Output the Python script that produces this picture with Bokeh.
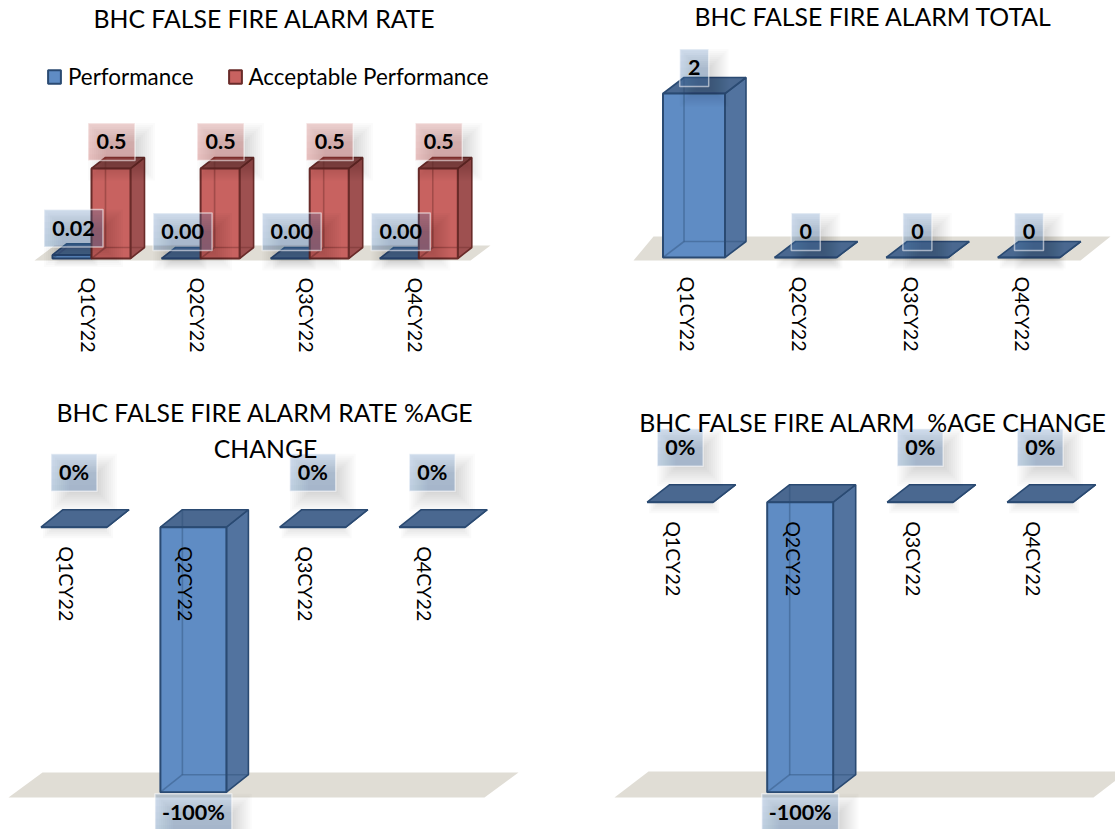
import math
from bokeh.core.properties import value
from bokeh.embed import file_html
from bokeh.layouts import column, row
from bokeh.models import FixedTicker, Label, Legend, LegendItem, LinearAxis, Range1d
from bokeh.plotting import figure
from bokeh.resources import INLINE

CATEGORIES = ["Q1CY22", "Q2CY22", "Q3CY22", "Q4CY22"]
RATE_PERFORMANCE = [0.02, 0.00, 0.00, 0.00]
RATE_ACCEPTABLE = [0.5, 0.5, 0.5, 0.5]
ALARM_TOTAL = [2, 0, 0, 0]
RATE_CHANGE = [0.0, -1.0, 0.0, 0.0]
ALARM_CHANGE = [0.0, -1.0, 0.0, 0.0]

RATE_PERFORMANCE_LABELS = ["0.02", "0.00", "0.00", "0.00"]
RATE_ACCEPTABLE_LABELS = ["0.5", "0.5", "0.5", "0.5"]
ALARM_TOTAL_LABELS = ["2", "0", "0", "0"]
CHANGE_LABELS = ["0%", "-100%", "0%", "0%"]

FONT = "Lato"
TITLE_SIZE = "24.8px"
AXIS_SIZE = "19.6px"
LABEL_SIZE = "21.5px"
LEGEND_SIZE = "22.4px"
BLUE = dict(front="#5F8CC4", side="#52739F", top="#4A6890", edge="#2A4A72", box="#4F81BD")
RED = dict(front="#C86260", side="#9E5050", top="#8C4A48", edge="#692B29", box="#C0504D")


def make_panel(left, right, top, bottom, tick0, spacing, zero, unit, depth_x, depth_y):
    px_x = lambda px: (px - tick0) / spacing
    px_y = lambda py: (zero - py) / unit
    p = figure(
        width=right - left, height=bottom - top,
        x_range=Range1d(px_x(left), px_x(right)), y_range=Range1d(px_y(bottom), px_y(top)),
        x_axis_location=None, y_axis_location=None, toolbar_location=None,
        output_backend="svg", min_border=0, outline_line_color=None,
        background_fill_color="white", border_fill_color="white",
    )
    p.grid.visible = False
    axis = LinearAxis(
        ticker=FixedTicker(ticks=list(range(len(CATEGORIES)))),
        major_label_overrides={i: c for i, c in enumerate(CATEGORIES)},
        major_label_orientation=-math.pi / 2, major_label_standoff=13,
        major_label_text_font=FONT, major_label_text_font_size=AXIS_SIZE,
        major_label_text_color="black",
        axis_line_color=None, major_tick_line_color=None, minor_tick_line_color=None,
        fixed_location=0,
    )
    p.add_layout(axis, "below")
    geo = dict(fig=p, x=px_x, y=px_y, sp=spacing, unit=unit, dx=depth_x / spacing, dy=depth_y / unit)
    return geo


def floor(g, pts):
    g["fig"].patch([g["x"](a) for a, _ in pts], [g["y"](b) for _, b in pts],
                   fill_color="#E0DDD5", line_color=None)


def soft(g, x0, x1, y0, y1, off_x=10, off_y=10, blur=10, alpha=0.014):
    """Blurred shadow: nested translucent rectangles; edges in data units."""
    ox, oy = off_x / g["sp"], off_y / g["unit"]
    for k in range(blur):
        gx, gy = (blur - 2 * k) / g["sp"], (blur - 2 * k) / g["unit"]
        g["fig"].quad(left=x0 + ox - gx, right=x1 + ox + gx, bottom=y0 - oy - gy, top=y1 - oy + gy,
                      fill_color="black", fill_alpha=alpha, line_color=None)


def bars(g, values, style, shift, width):
    s = shift / g["sp"]
    w = width / g["sp"] / 2
    dx, dy = g["dx"], g["dy"]
    side_x, side_y, top_x, top_y, front_x, front_y = [], [], [], [], [], []
    hidden_x, hidden_y = [], []
    for i, v in enumerate(values):
        lo, hi = min(v, 0), max(v, 0)
        l, r = i + s - w, i + s + w
        side_x.append([r, r + dx, r + dx, r]); side_y.append([lo, lo + dy, hi + dy, hi])
        top_x.append([l, r, r + dx, l + dx]); top_y.append([hi, hi, hi + dy, hi + dy])
        front_x.append([l, r, r, l]); front_y.append([lo, lo, hi, hi])
        if hi > lo:
            hidden_x += [[l + dx, l + dx], [l, l + dx], [l + dx, r + dx]]
            hidden_y += [[lo + dy, hi + dy], [lo, lo + dy], [lo + dy, lo + dy]]
    p = g["fig"]
    for i, v in enumerate(values):
        if abs(v) * g["unit"] < 8:
            l, r = i + s - w, i + s + w
            soft(g, l + 3 / g["sp"], r - 3 / g["sp"], v, v + 8 / g["unit"], off_x=4, off_y=6, blur=5, alpha=0.018)
    p.patches(side_x, side_y, fill_color=style["side"], line_color=style["edge"], line_width=1.6)
    p.patches(top_x, top_y, fill_color=style["top"], line_color=style["edge"], line_width=1.6)
    front = p.patches(front_x, front_y, fill_color=style["front"], line_color=style["edge"], line_width=2)
    if hidden_x:
        p.multi_line(hidden_x, hidden_y, line_color=style["edge"], line_alpha=0.4, line_width=1.6)
    return front


def data_labels(g, values, labels, style, shift, box_w, gap=8, box_h=37.5):
    p = g["fig"]
    s = shift / g["sp"]
    h = box_h / g["unit"]
    dg = gap / g["unit"]
    for i, (v, t) in enumerate(zip(values, labels)):
        # the box grows with the length of its text
        hw = (box_w + (len(t) - 2) * 10.3 if len(t) > 4 else box_w) / g["sp"] / 2
        if v < 0:
            y1 = v - 1.5 / g["unit"]
            y0 = y1 - h
        else:
            y0 = v + dg
            y1 = y0 + h
        l, r = i + s - hw, i + s + hw
        soft(g, l, r, y0, y1)
        p.quad(left=l, right=r, bottom=y0, top=y1, fill_color=style["box"], fill_alpha=0.26, line_color=None)
        for k in range(1, 6):
            p.quad(left=l, right=r, bottom=y0, top=y1 - (y1 - y0) * k / 6,
                   fill_color=style["box"], fill_alpha=0.025, line_color=None)
        p.quad(left=l, right=r, bottom=y0, top=y1, fill_alpha=0, line_color="white", line_alpha=0.55, line_width=1.5)
        p.text(x=[i + s], y=[(y0 + y1) / 2], text=[t], text_font=value(FONT), text_font_style="bold",
               text_font_size=LABEL_SIZE, text_color="black", text_align="center", text_baseline="middle")


def title(g, text, cx, cy):
    g["fig"].add_layout(Label(x=g["x"](cx), y=g["y"](cy), text=text, text_font=FONT,
                              text_font_size=TITLE_SIZE, text_color="black",
                              text_align="center", text_baseline="middle"))


# Panel 1: rate
g1 = make_panel(0, 566, 0, 395, 88, 109.1, 258, 180, 14, 11)
floor(g1, [(34, 260), (470, 260), (490, 245), (54, 245)])
r_blue = bars(g1, RATE_PERFORMANCE, BLUE, -16.5, 39)
r_red = bars(g1, RATE_ACCEPTABLE, RED, 22.5, 39)
data_labels(g1, RATE_PERFORMANCE, RATE_PERFORMANCE_LABELS, BLUE, -15, 59)
data_labels(g1, RATE_ACCEPTABLE, RATE_ACCEPTABLE_LABELS, RED, 23, 47)
title(g1, "BHC FALSE FIRE ALARM RATE", 264, 18)
legend = Legend(
    items=[LegendItem(label="Performance", renderers=[r_blue]),
           LegendItem(label="Acceptable Performance", renderers=[r_red])],
    orientation="horizontal", location=(46, 305), glyph_width=16, glyph_height=17, label_standoff=6,
    spacing=33, padding=0, margin=0, background_fill_alpha=0, border_line_alpha=0,
    label_text_font=FONT, label_text_font_size=LEGEND_SIZE, label_text_color="black",
)
g1["fig"].add_layout(legend, "center")

# Panel 2: total
g2 = make_panel(566, 1115, 0, 395, 687.3, 111.6, 257, 82, 21, 16)
floor(g2, [(633, 260), (1080, 260), (1110, 236), (653, 236)])
bars(g2, ALARM_TOTAL, BLUE, 6.2, 62)
data_labels(g2, ALARM_TOTAL, ALARM_TOTAL_LABELS, BLUE, 6.4, 29, gap=7)
title(g2, "BHC FALSE FIRE ALARM TOTAL", 873, 16)

# Panel 3: rate change
g3 = make_panel(0, 566, 395, 829, 66, 119.4, 526.7, 265, 22, 17.5)
floor(g3, [(8, 797), (484, 797), (518, 772), (42, 772)])
bars(g3, RATE_CHANGE, BLUE, 7.5, 66)
data_labels(g3, RATE_CHANGE, CHANGE_LABELS, BLUE, 7.5, 46, gap=36)
title(g3, "BHC FALSE FIRE ALARM RATE %AGE", 264.5, 412)
title(g3, "CHANGE", 265, 448)

# Panel 4: total change
g4 = make_panel(566, 1115, 395, 829, 672.7, 120, 501.7, 290, 22.5, 17.5)
floor(g4, [(614, 797), (1093, 797), (1127, 771), (648, 771)])
bars(g4, ALARM_CHANGE, BLUE, 7, 66)
data_labels(g4, ALARM_CHANGE, CHANGE_LABELS, BLUE, 7, 46, gap=36)
title(g4, "BHC FALSE FIRE ALARM \u00a0%AGE CHANGE", 872.5, 422)

page = column(row(g1["fig"], g2["fig"]), row(g3["fig"], g4["fig"]))
open("out.html", "w").write(file_html(page, INLINE))
